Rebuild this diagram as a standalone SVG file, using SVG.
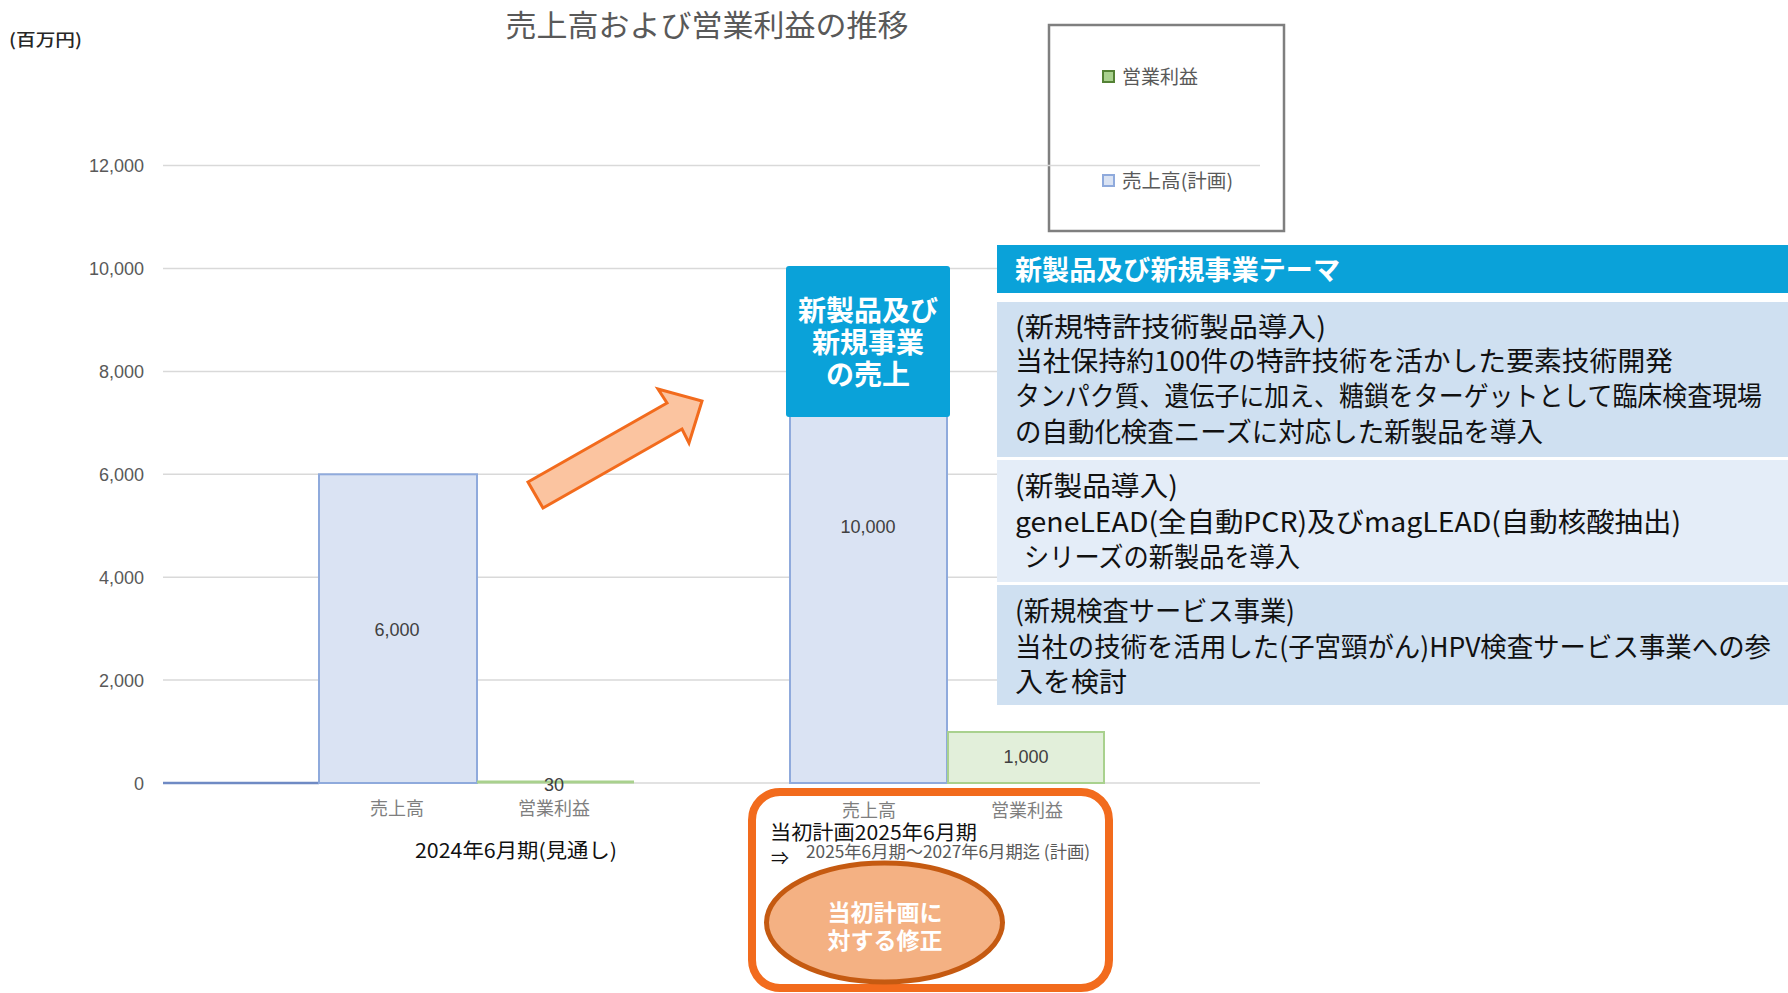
<svg xmlns="http://www.w3.org/2000/svg" width="1788" height="993" viewBox="0 0 1788 993">
<style>
.jp{font-family:'Noto Sans CJK JP','Liberation Sans',sans-serif}
.num{font-family:'Liberation Sans','Noto Sans CJK JP',sans-serif}
.grid{stroke:#d9d9d9;stroke-width:1.5}
.ax{font-size:18px;fill:#595959;text-anchor:end}
.cat{font-size:18px;fill:#7f7f7f;text-anchor:middle}
.val{font-size:18px;fill:#404040;text-anchor:middle}
.sales{fill:#dae3f3;stroke:#8faadc;stroke-width:2}
.profit{fill:#e2efda;stroke:#a9d18e;stroke-width:2}
.panel{font-size:27px;fill:#111}
.wb{fill:#fff;font-weight:bold;text-anchor:middle}
</style>
<rect width="1788" height="993" fill="#fff"/>
<g id="title">
<text class="jp" x="707" y="36" font-size="30" fill="#595959" text-anchor="middle" textLength="403" lengthAdjust="spacingAndGlyphs">売上高および営業利益の推移</text>
<text class="jp" x="9" y="46" font-size="17" font-weight="500" fill="#262626" textLength="73" lengthAdjust="spacingAndGlyphs">(百万円)</text>
</g>
<g id="legend">
<rect x="1049" y="25" width="235" height="206" fill="none" stroke="#7f7f7f" stroke-width="2.5"/>
<rect x="1103" y="71" width="11" height="11" fill="#a9d18e" stroke="#548235" stroke-width="2"/>
<text class="jp" x="1122" y="84" font-size="19" fill="#595959">営業利益</text>
<rect x="1103" y="175" width="11" height="11" fill="#dae3f3" stroke="#8faadc" stroke-width="2"/>
<text class="jp" x="1122" y="188" font-size="19" fill="#595959" textLength="111" lengthAdjust="spacingAndGlyphs">売上高(計画)</text>
</g>
<g id="axis">
<line class="grid" x1="163" y1="165.6" x2="1260" y2="165.6"/>
<line class="grid" x1="163" y1="268.5" x2="1260" y2="268.5"/>
<line class="grid" x1="163" y1="371.4" x2="1260" y2="371.4"/>
<line class="grid" x1="163" y1="474.3" x2="1260" y2="474.3"/>
<line class="grid" x1="163" y1="577.2" x2="1260" y2="577.2"/>
<line class="grid" x1="163" y1="680.1" x2="1260" y2="680.1"/>
<line class="grid" x1="163" y1="783" x2="1260" y2="783"/>
<text class="num ax" x="144" y="172">12,000</text>
<text class="num ax" x="144" y="275">10,000</text>
<text class="num ax" x="144" y="378">8,000</text>
<text class="num ax" x="144" y="481">6,000</text>
<text class="num ax" x="144" y="584">4,000</text>
<text class="num ax" x="144" y="687">2,000</text>
<text class="num ax" x="144" y="790">0</text>
<line x1="163" y1="783" x2="319" y2="783" stroke="#6f8ac4" stroke-width="2.5"/>
</g>
<g id="group2024">
<rect class="sales" x="319" y="474.3" width="158" height="308.7"/>
<text class="num val" x="397" y="636">6,000</text>
<rect x="477" y="780.5" width="157" height="3" fill="#a9d18e"/>
<text class="num val" x="554" y="791" font-size="19">30</text>
<text class="jp cat" x="397" y="815">売上高</text>
<text class="jp cat" x="554" y="815">営業利益</text>
<text class="jp" x="415" y="858" font-size="20" fill="#111" textLength="202" lengthAdjust="spacingAndGlyphs">2024年6月期(見通し)</text>
</g>
<g id="group2025">
<rect class="sales" x="790" y="268.5" width="157" height="514.5"/>
<text class="num val" x="868" y="533">10,000</text>
<rect class="profit" x="948" y="732" width="156" height="51"/>
<text class="num val" x="1026" y="763">1,000</text>
</g>
<g id="newSalesBox">
<rect x="786" y="266" width="164" height="151" rx="3" fill="#0aa2d9"/>
<text class="jp wb" x="868" y="321" font-size="28">新製品及び</text>
<text class="jp wb" x="868" y="353" font-size="28">新規事業</text>
<text class="jp wb" x="868" y="385" font-size="28">の売上</text>
</g>
<g id="planBox">
<rect x="752" y="792" width="357" height="196" rx="28" fill="none" stroke="#f26b1d" stroke-width="8"/>
<text class="jp cat" x="869" y="817">売上高</text>
<text class="jp cat" x="1027" y="817">営業利益</text>
<text class="jp" x="770" y="840" font-size="20" fill="#111" textLength="207" lengthAdjust="spacingAndGlyphs">当初計画2025年6月期</text>
<text class="jp" x="771" y="865" font-size="18" fill="#111">⇒</text>
<text class="jp" x="806" y="858" font-size="17" fill="#595959" textLength="284" lengthAdjust="spacingAndGlyphs">2025年6月期～2027年6月期迄 (計画)</text>
</g>
<g id="revision">
<ellipse cx="884.5" cy="922.5" rx="118" ry="59.5" fill="#f4b183" stroke="#c55a11" stroke-width="5"/>
<text class="jp wb" x="885" y="921" font-size="23">当初計画に</text>
<text class="jp wb" x="885" y="949" font-size="23">対する修正</text>
</g>
<g id="themePanel">
<rect x="997" y="245" width="791" height="48" fill="#0aa2d9"/>
<text class="jp" x="1015" y="280" font-size="27" font-weight="bold" fill="#fff" textLength="325" lengthAdjust="spacingAndGlyphs">新製品及び新規事業テーマ</text>
<rect x="997" y="302" width="791" height="155" fill="#cfe0f1"/>
<text class="jp panel" x="1015" y="337" textLength="311" lengthAdjust="spacingAndGlyphs">(新規特許技術製品導入)</text>
<text class="jp panel" x="1015" y="371" textLength="658" lengthAdjust="spacingAndGlyphs">当社保持約100件の特許技術を活かした要素技術開発</text>
<text class="jp panel" x="1015" y="406" textLength="747" lengthAdjust="spacingAndGlyphs">タンパク質、遺伝子に加え、糖鎖をターゲットとして臨床検査現場</text>
<text class="jp panel" x="1015" y="442" textLength="528" lengthAdjust="spacingAndGlyphs">の自動化検査ニーズに対応した新製品を導入</text>
<rect x="997" y="460" width="791" height="122" fill="#e4edf8"/>
<text class="jp panel" x="1015" y="496" textLength="163" lengthAdjust="spacingAndGlyphs">(新製品導入)</text>
<text class="jp panel" x="1015" y="532" textLength="666" lengthAdjust="spacingAndGlyphs">geneLEAD(全自動PCR)及びmagLEAD(自動核酸抽出)</text>
<text class="jp panel" x="1024" y="567" textLength="276" lengthAdjust="spacingAndGlyphs">シリーズの新製品を導入</text>
<rect x="997" y="585" width="791" height="120" fill="#cfe0f1"/>
<text class="jp panel" x="1015" y="621" textLength="280" lengthAdjust="spacingAndGlyphs">(新規検査サービス事業)</text>
<text class="jp panel" x="1015" y="657" textLength="756" lengthAdjust="spacingAndGlyphs">当社の技術を活用した(子宮頸がん)HPV検査サービス事業への参</text>
<text class="jp panel" x="1015" y="692" textLength="112" lengthAdjust="spacingAndGlyphs">入を検討</text>
</g>
<g id="connectors">
<polygon points="528,482 667,403 658,389 702,401 689,443 682,429 543,508" fill="#fbc4a0" stroke="#f26b1d" stroke-width="3" stroke-linejoin="miter"/>
</g>
</svg>
